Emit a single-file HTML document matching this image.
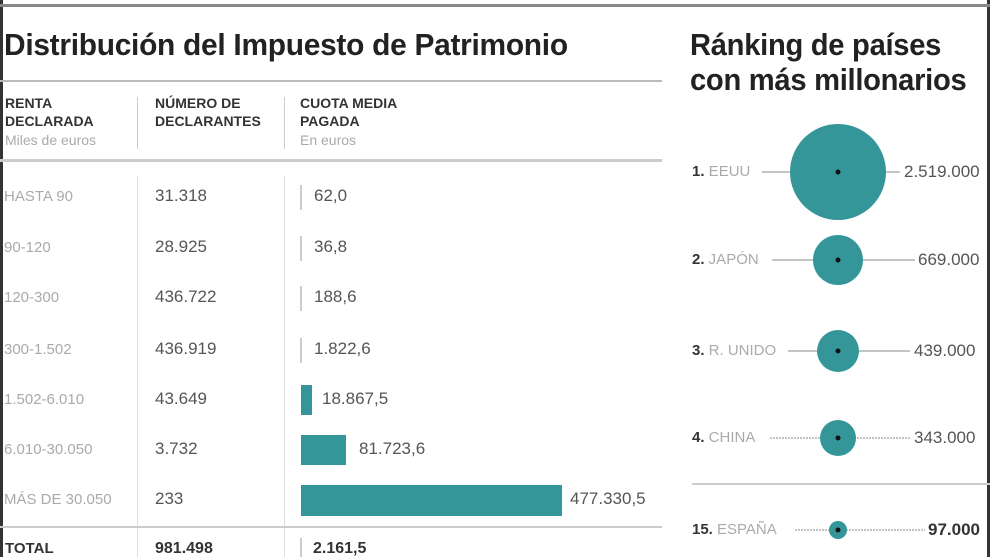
<!DOCTYPE html>
<html><head><meta charset="utf-8"><style>
body{margin:0;width:990px;height:557px;overflow:hidden;background:#fff;position:relative;font-family:"Liberation Sans Narrow","Liberation Sans",sans-serif;color:#444}
div,span{position:absolute;white-space:nowrap}
.t{font-weight:bold;font-size:31px;color:#222;letter-spacing:-0.3px;transform:scaleX(0.965);transform-origin:0 0}
.h{font-weight:bold;font-size:14px;color:#333;line-height:18px}
.s{font-size:14px;color:#aaa}
.l{font-size:15px;color:#aaa}
.n{font-size:17px;color:#555}
.bar{background:#35969a}
.tk{background:#ccc;width:2px}
</style></head><body>
<div style="left:0;top:0;width:3px;height:557px;background:#333"></div>
<div style="left:987px;top:0;width:3px;height:557px;background:#333"></div>
<div style="left:0;top:4px;width:990px;height:3px;background:#888"></div>
<div class="t" style="left:4px;top:27px">Distribución del Impuesto de Patrimonio</div>
<div class="t" style="left:690px;top:27px;line-height:35px;transform:scaleX(0.94)">Ránking de países<br>con más millonarios</div>
<div style="left:0;top:80px;width:662px;height:2px;background:#bbb"></div>
<div class="h" style="left:5px;top:94px">RENTA<br>DECLARADA</div>
<div class="s" style="left:5px;top:132px">Miles de euros</div>
<div class="h" style="left:155px;top:94px">NÚMERO DE<br>DECLARANTES</div>
<div class="h" style="left:300px;top:94px">CUOTA MEDIA<br>PAGADA</div>
<div class="s" style="left:300px;top:132px">En euros</div>
<div style="left:137px;top:97px;width:1px;height:52px;background:#ccc"></div>
<div style="left:284px;top:97px;width:1px;height:52px;background:#ccc"></div>
<div style="left:0;top:159px;width:662px;height:3px;background:#ccc"></div>
<div style="left:137px;top:176px;width:1px;height:381px;background:#ddd"></div>
<div style="left:284px;top:176px;width:1px;height:381px;background:#ddd"></div>

<div class="l" style="left:4px;top:188px">HASTA 90</div><div class="n" style="left:155px;top:186px">31.318</div><div class="tk" style="left:300px;top:185px;height:25px"></div><div class="n" style="left:314px;top:186px">62,0</div>
<div class="l" style="left:4px;top:239px">90-120</div><div class="n" style="left:155px;top:237px">28.925</div><div class="tk" style="left:300px;top:236px;height:25px"></div><div class="n" style="left:314px;top:237px">36,8</div>
<div class="l" style="left:4px;top:289px">120-300</div><div class="n" style="left:155px;top:287px">436.722</div><div class="tk" style="left:300px;top:286px;height:25px"></div><div class="n" style="left:314px;top:287px">188,6</div>
<div class="l" style="left:4px;top:341px">300-1.502</div><div class="n" style="left:155px;top:339px">436.919</div><div class="tk" style="left:300px;top:338px;height:25px"></div><div class="n" style="left:314px;top:339px">1.822,6</div>
<div class="l" style="left:4px;top:391px">1.502-6.010</div><div class="n" style="left:155px;top:389px">43.649</div><div class="bar" style="left:301px;top:385px;width:11px;height:30px"></div><div class="n" style="left:322px;top:389px">18.867,5</div>
<div class="l" style="left:4px;top:441px">6.010-30.050</div><div class="n" style="left:155px;top:439px">3.732</div><div class="bar" style="left:301px;top:435px;width:45px;height:30px"></div><div class="n" style="left:359px;top:439px">81.723,6</div>
<div class="l" style="left:4px;top:491px">MÁS DE 30.050</div><div class="n" style="left:155px;top:489px">233</div><div class="bar" style="left:301px;top:485px;width:261px;height:31px"></div><div class="n" style="left:570px;top:489px">477.330,5</div>
<div style="left:0;top:526px;width:662px;height:2px;background:#ccc"></div>
<div class="h" style="left:5px;top:540px;font-size:15px">TOTAL</div><div class="h" style="left:155px;top:540px;font-size:16px">981.498</div><div class="tk" style="left:300px;top:538px;height:19px"></div><div class="h" style="left:313px;top:540px;font-size:16px">2.161,5</div>

<svg style="position:absolute;left:0;top:0" width="990" height="557">
<g stroke="#888" stroke-width="1">
<line x1="762" y1="172" x2="900" y2="172"/>
<line x1="772" y1="260" x2="915" y2="260"/>
<line x1="788" y1="351" x2="910" y2="351"/>
<line x1="770" y1="438" x2="910" y2="438" stroke-dasharray="2,1"/>
<line x1="795" y1="530" x2="925" y2="530" stroke-dasharray="2,1"/>
</g>
<line x1="692" y1="484" x2="990" y2="484" stroke="#ccc" stroke-width="2"/>
<g fill="#35969a">
<circle cx="838" cy="172" r="48"/><circle cx="838" cy="260" r="25"/><circle cx="838" cy="351" r="21"/><circle cx="838" cy="438" r="18"/><circle cx="838" cy="530" r="9"/>
</g>
<g fill="#111"><circle cx="838" cy="172" r="2.5"/><circle cx="838" cy="260" r="2.5"/><circle cx="838" cy="351" r="2.5"/><circle cx="838" cy="438" r="2.5"/><circle cx="838" cy="530" r="2.5"/></g>
</svg>
<div class="l" style="left:692px;top:163px"><b style="color:#333">1.</b> EEUU</div><div class="n" style="left:904px;top:162px">2.519.000</div>
<div class="l" style="left:692px;top:251px"><b style="color:#333">2.</b> JAPÓN</div><div class="n" style="left:918px;top:250px">669.000</div>
<div class="l" style="left:692px;top:342px"><b style="color:#333">3.</b> R. UNIDO</div><div class="n" style="left:914px;top:341px">439.000</div>
<div class="l" style="left:692px;top:429px"><b style="color:#333">4.</b> CHINA</div><div class="n" style="left:914px;top:428px">343.000</div>
<div class="l" style="left:692px;top:521px"><b style="color:#333">15.</b> ESPAÑA</div><div class="n" style="left:928px;top:520px;font-weight:bold;color:#333">97.000</div>
</body></html>
